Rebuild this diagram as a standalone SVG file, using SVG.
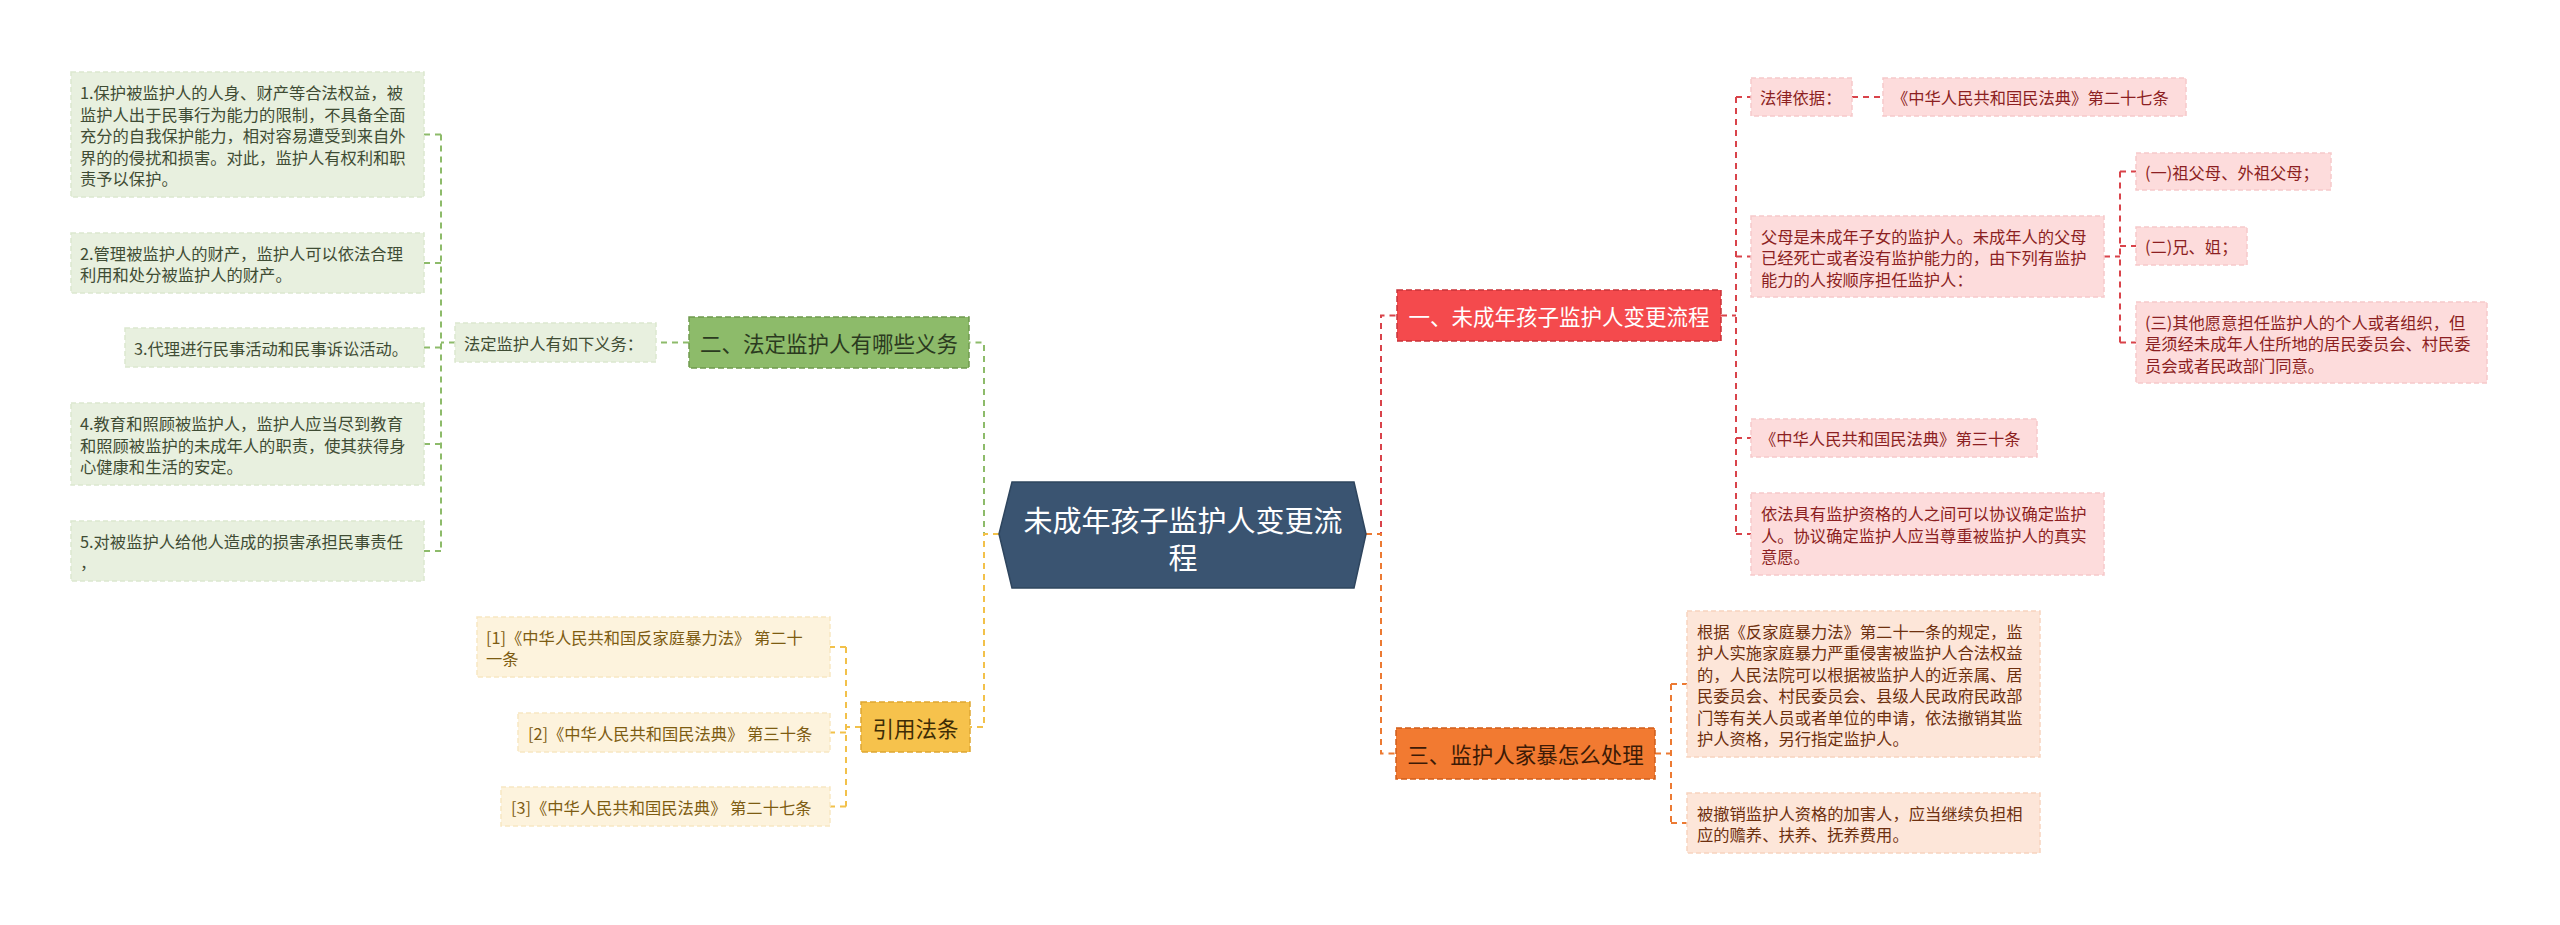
<svg xmlns="http://www.w3.org/2000/svg" width="2560" height="925" viewBox="0 0 2560 925">
<style>
text{font-family:"Noto Sans CJK SC","Noto Sans",sans-serif;dominant-baseline:central}
.lf{font-size:16.3px}
.nd{font-size:21.5px}
.ln{fill:none;stroke-width:2;stroke-dasharray:6 5}
.g{stroke:#8dbb6a}.r{stroke:#d9434a}.o{stroke:#ec7a33}.y{stroke:#f2c14a}
.gl{fill:#e8f0df;stroke:#dbe8cf;stroke-width:1.5;stroke-dasharray:5 3}
.rl{fill:#fddcdc;stroke:#f6c9ca;stroke-width:1.5;stroke-dasharray:5 3}
.ol{fill:#fde6d9;stroke:#f8d3bf;stroke-width:1.5;stroke-dasharray:5 3}
.yl{fill:#fdf3dd;stroke:#f8e7c2;stroke-width:1.5;stroke-dasharray:5 3}
.gt{fill:#3f4c34}.rt{fill:#8c1f22}.ot{fill:#6e300f}.yt{fill:#7d5c12}
</style>
<rect width="2560" height="925" fill="#ffffff"/>
<g id="connectors">
<path class="ln g" d="M999 534H984V342.5H969"/>
<path class="ln y" d="M999 534H984V727H970"/>
<path class="ln r" d="M1366 534H1381V315.5H1397"/>
<path class="ln o" d="M1366 534H1381V753.5H1396"/>
<path class="ln g" d="M689 342.5H656"/>
<path class="ln g" d="M455 342.5H441M441 134.5V551M441 134.5H424M441 263H424M441 347.5H424M441 444H424M441 551H424"/>
<path class="ln y" d="M861 727H846M846 647V806.5M846 647H830M846 732.5H830M846 806.5H830"/>
<path class="ln r" d="M1721 315.5H1736M1736 97V534M1736 97H1751M1736 256.5H1751M1736 438H1751M1736 534H1751"/>
<path class="ln r" d="M1852 97H1883"/>
<path class="ln r" d="M2104 256.5H2120M2120 171.5V342.5M2120 171.5H2136M2120 246H2136M2120 342.5H2136"/>
<path class="ln o" d="M1655 753.5H1671M1671 684V823M1671 684H1687M1671 823H1687"/>
</g>
<g id="root">
<polygon points="999,534 1012,482 1354,482 1366,534 1354,588 1012,588" fill="#3a5471" stroke="#2e455e" stroke-width="1.5"/>
<text x="1183" y="519" font-size="29" fill="#ffffff" text-anchor="middle">未成年孩子监护人变更流</text>
<text x="1183" y="556" font-size="29" fill="#ffffff" text-anchor="middle">程</text>
</g>
<g id="n1">
<rect x="1397" y="290" width="324" height="51" fill="#f44a4d" stroke="#c93338" stroke-width="1.5" stroke-dasharray="6 3"/>
<text class="nd" x="1559" y="315.5" fill="#ffffff" text-anchor="middle">一、未成年孩子监护人变更流程</text>
</g>
<g id="n2">
<rect x="689" y="317" width="280" height="51" fill="#8dbb6a" stroke="#6f9a4e" stroke-width="1.5" stroke-dasharray="6 3"/>
<text class="nd" x="829" y="342.5" fill="#2b3a1f" text-anchor="middle">二、法定监护人有哪些义务</text>
</g>
<g id="n3">
<rect x="1396" y="728" width="259" height="51" fill="#f27a31" stroke="#cf5d1b" stroke-width="1.5" stroke-dasharray="6 3"/>
<text class="nd" x="1525.5" y="753.5" fill="#3d1a06" text-anchor="middle">三、监护人家暴怎么处理</text>
</g>
<g id="n4">
<rect x="861" y="702" width="109" height="50" fill="#f6c24c" stroke="#dea630" stroke-width="1.5" stroke-dasharray="6 3"/>
<text class="nd" x="915.5" y="727" fill="#3e2d05" text-anchor="middle">引用法条</text>
</g>
<g id="g-label">
<rect class="gl" x="455" y="323" width="201" height="39"/>
<text class="lf gt" x="464" y="342.5">法定监护人有如下义务：</text>
</g>
<g id="g1">
<rect class="gl" x="71" y="72" width="353" height="125"/>
<text class="lf gt" x="80" y="92">1.保护被监护人的人身、财产等合法权益，被</text>
<text class="lf gt" x="80" y="113.5">监护人出于民事行为能力的限制，不具备全面</text>
<text class="lf gt" x="80" y="135">充分的自我保护能力，相对容易遭受到来自外</text>
<text class="lf gt" x="80" y="156.5">界的的侵扰和损害。对此，监护人有权利和职</text>
<text class="lf gt" x="80" y="178">责予以保护。</text>
</g>
<g id="g2">
<rect class="gl" x="71" y="233" width="353" height="60"/>
<text class="lf gt" x="80" y="252.5">2.管理被监护人的财产，监护人可以依法合理</text>
<text class="lf gt" x="80" y="274">利用和处分被监护人的财产。</text>
</g>
<g id="g3">
<rect class="gl" x="125" y="328" width="299" height="39"/>
<text class="lf gt" x="134" y="347.5">3.代理进行民事活动和民事诉讼活动。</text>
</g>
<g id="g4">
<rect class="gl" x="71" y="403" width="353" height="82"/>
<text class="lf gt" x="80" y="423">4.教育和照顾被监护人，监护人应当尽到教育</text>
<text class="lf gt" x="80" y="444.5">和照顾被监护的未成年人的职责，使其获得身</text>
<text class="lf gt" x="80" y="466">心健康和生活的安定。</text>
</g>
<g id="g5">
<rect class="gl" x="71" y="521" width="353" height="60"/>
<text class="lf gt" x="80" y="540.5">5.对被监护人给他人造成的损害承担民事责任</text>
<text class="lf gt" x="80" y="562">，</text>
</g>
<g id="y1">
<rect class="yl" x="477" y="617" width="353" height="60"/>
<text class="lf yt" x="486" y="636.5">[1]《中华人民共和国反家庭暴力法》 第二十</text>
<text class="lf yt" x="486" y="658">一条</text>
</g>
<g id="y2">
<rect class="yl" x="518" y="713" width="312" height="39"/>
<text class="lf yt" x="528" y="732.5">[2]《中华人民共和国民法典》 第三十条</text>
</g>
<g id="y3">
<rect class="yl" x="501" y="787" width="329" height="39"/>
<text class="lf yt" x="511" y="806.5">[3]《中华人民共和国民法典》 第二十七条</text>
</g>
<g id="r1">
<rect class="rl" x="1751" y="78" width="101" height="38"/>
<text class="lf rt" x="1760" y="97">法律依据：</text>
</g>
<g id="r1a">
<rect class="rl" x="1883" y="78" width="303" height="38"/>
<text class="lf rt" x="1892" y="97">《中华人民共和国民法典》第二十七条</text>
</g>
<g id="r2">
<rect class="rl" x="1751" y="216" width="353" height="81"/>
<text class="lf rt" x="1761" y="235.5">父母是未成年子女的监护人。未成年人的父母</text>
<text class="lf rt" x="1761" y="257">已经死亡或者没有监护能力的，由下列有监护</text>
<text class="lf rt" x="1761" y="278.5">能力的人按顺序担任监护人：</text>
</g>
<g id="r2a">
<rect class="rl" x="2136" y="153" width="195" height="37"/>
<text class="lf rt" x="2145" y="171.5">(一)祖父母、外祖父母；</text>
</g>
<g id="r2b">
<rect class="rl" x="2136" y="227" width="111" height="38"/>
<text class="lf rt" x="2145" y="246">(二)兄、姐；</text>
</g>
<g id="r2c">
<rect class="rl" x="2136" y="302" width="351" height="81"/>
<text class="lf rt" x="2145" y="321.5">(三)其他愿意担任监护人的个人或者组织，但</text>
<text class="lf rt" x="2145" y="343">是须经未成年人住所地的居民委员会、村民委</text>
<text class="lf rt" x="2145" y="364.5">员会或者民政部门同意。</text>
</g>
<g id="r3">
<rect class="rl" x="1751" y="419" width="286" height="38"/>
<text class="lf rt" x="1760" y="438">《中华人民共和国民法典》第三十条</text>
</g>
<g id="r4">
<rect class="rl" x="1751" y="493" width="353" height="82"/>
<text class="lf rt" x="1761" y="513">依法具有监护资格的人之间可以协议确定监护</text>
<text class="lf rt" x="1761" y="534.5">人。协议确定监护人应当尊重被监护人的真实</text>
<text class="lf rt" x="1761" y="556">意愿。</text>
</g>
<g id="o1">
<rect class="ol" x="1687" y="611" width="353" height="146"/>
<text class="lf ot" x="1697" y="630.5">根据《反家庭暴力法》第二十一条的规定，监</text>
<text class="lf ot" x="1697" y="652">护人实施家庭暴力严重侵害被监护人合法权益</text>
<text class="lf ot" x="1697" y="673.5">的，人民法院可以根据被监护人的近亲属、居</text>
<text class="lf ot" x="1697" y="695">民委员会、村民委员会、县级人民政府民政部</text>
<text class="lf ot" x="1697" y="716.5">门等有关人员或者单位的申请，依法撤销其监</text>
<text class="lf ot" x="1697" y="738">护人资格，另行指定监护人。</text>
</g>
<g id="o2">
<rect class="ol" x="1687" y="793" width="353" height="60"/>
<text class="lf ot" x="1697" y="812.5">被撤销监护人资格的加害人，应当继续负担相</text>
<text class="lf ot" x="1697" y="834">应的赡养、扶养、抚养费用。</text>
</g>
</svg>
